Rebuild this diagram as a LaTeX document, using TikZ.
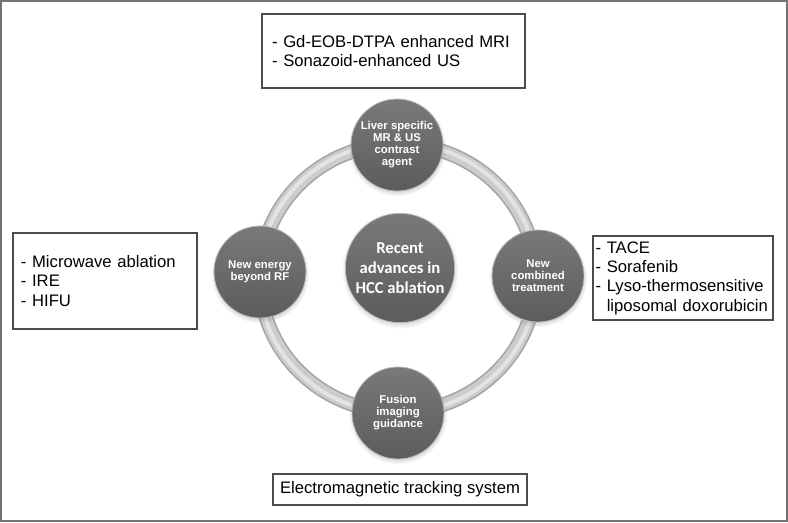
\documentclass[tikz,border=0pt]{standalone}
\usepackage{fontspec}
\setmainfont{Liberation Sans}
\newfontfamily\calfont{Carlito}
\usetikzlibrary{shadows}

\begin{document}
\begin{tikzpicture}[x=0.75pt, y=-0.75pt,
  spoke/.style={draw=gray!55, line width=0.6pt, circle, top color=gray!95!black, bottom color=gray!72!black, text=white, align=center, font=\bfseries\fontsize{8.5}{9}\selectfont, inner sep=0pt, minimum size=69pt, circular drop shadow={shadow xshift=0pt, shadow yshift=-1.5pt, shadow scale=1.07, opacity=.4}},
  hub/.style={spoke, minimum size=82pt, font=\calfont\bfseries\fontsize{12.5}{15}\selectfont},
  note/.style={draw=gray!60!black, line width=1.2pt, fill=white, align=left, inner ysep=0pt, font=\fontsize{12.5}{14.5}\selectfont}]
\useasboundingbox (0,0) rectangle (788,522);
\draw[gray!90!black, line width=1.5pt] (1,1) rectangle (787,521);
% ring
\coordinate (o) at (398,278);
\draw[line width=11pt, gray!70] (o) ellipse [x radius=138, y radius=134];
\draw[line width=8.5pt, gray!40] (o) ellipse [x radius=138, y radius=134];
\draw[line width=3pt, gray!22] (o) ellipse [x radius=139, y radius=135];
% circles
\node (liver)[spoke] at (397,145) {Liver specific\\MR \& US\\contrast\\agent};
\node (nrg)[spoke] at (260,272) {New energy\\beyond RF};
\node (cmb)[spoke] at (538,276) {New\\combined\\treatment};
\node (fus)[spoke] at (398,413) {Fusion\\imaging\\guidance};
\node (hcc)[hub] at (400,268) {Recent\\advances in\\HCC ablation};
% boxes
\node (mri)[note, text width=182pt, inner xsep=7.5pt, minimum height=55.5pt] at (393.5,51) {- Gd-EOB-DTPA enhanced MRI\\- Sonazoid-enhanced US};
\node (rf)[note, text width=126pt, inner xsep=6pt, minimum height=72pt] at (105,281) {- Microwave ablation\\- IRE\\- HIFU};
\node (tace)[note, text width=131pt, inner xsep=2pt, minimum height=63pt] at (683,278) {- TACE\\- Sorafenib\\- Lyso-thermosensitive\\\phantom{- }liposomal doxorubicin};
\node (emt)[note, minimum width=190.5pt, minimum height=23.25pt, align=center] at (400,489.5) {Electromagnetic tracking system};
\end{tikzpicture}
\end{document}
